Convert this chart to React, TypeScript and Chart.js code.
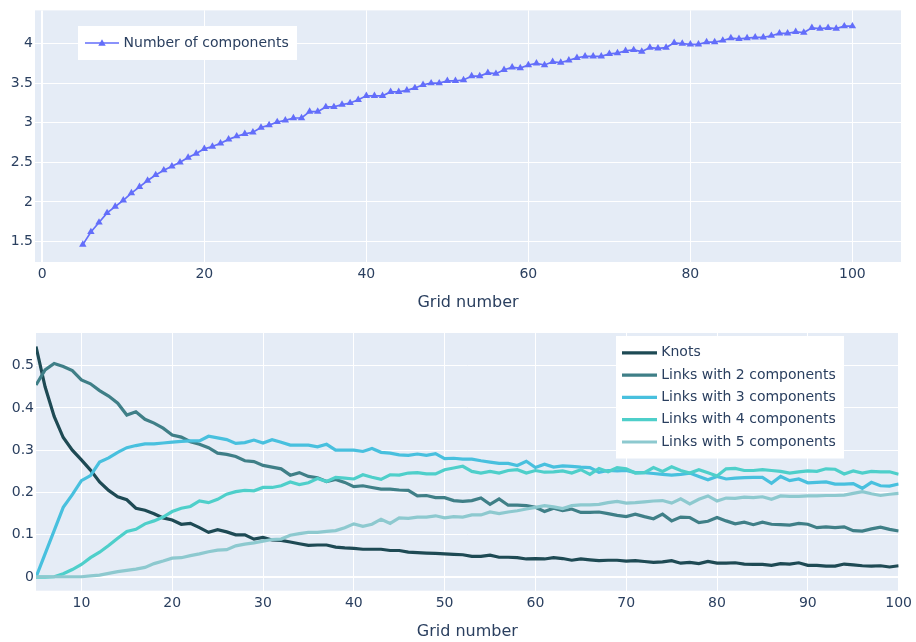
import React, { useEffect, useRef } from 'react';
import { Chart, registerables } from 'chart.js';

Chart.register(...registerables);

const gridNumbers = [
  5, 6, 7, 8, 9, 10, 11, 12, 13, 14, 15, 16, 17, 18, 19, 20, 21, 22, 23, 24,
  25, 26, 27, 28, 29, 30, 31, 32, 33, 34, 35, 36, 37, 38, 39, 40, 41, 42, 43, 44,
  45, 46, 47, 48, 49, 50, 51, 52, 53, 54, 55, 56, 57, 58, 59, 60, 61, 62, 63, 64,
  65, 66, 67, 68, 69, 70, 71, 72, 73, 74, 75, 76, 77, 78, 79, 80, 81, 82, 83, 84,
  85, 86, 87, 88, 89, 90, 91, 92, 93, 94, 95, 96, 97, 98, 99, 100,
];

const numberOfComponents = [
  1.46, 1.62, 1.74, 1.86, 1.94, 2.02, 2.11, 2.19, 2.27, 2.34, 2.40, 2.45, 2.50, 2.56, 2.61, 2.67,
  2.70, 2.74, 2.79, 2.83, 2.86, 2.88, 2.94, 2.97, 3.01, 3.03, 3.06, 3.06, 3.14, 3.14, 3.20, 3.20,
  3.23, 3.25, 3.29, 3.34, 3.34, 3.34, 3.39, 3.39, 3.41, 3.44, 3.48, 3.50, 3.50, 3.53, 3.53, 3.54,
  3.59, 3.59, 3.63, 3.62, 3.67, 3.70, 3.69, 3.73, 3.75, 3.73, 3.77, 3.76, 3.79, 3.82, 3.84, 3.84,
  3.84, 3.87, 3.88, 3.91, 3.92, 3.90, 3.95, 3.94, 3.95, 4.01, 4.00, 3.99, 3.99, 4.02, 4.02, 4.04,
  4.07, 4.06, 4.07, 4.08, 4.08, 4.10, 4.13, 4.13, 4.15, 4.14, 4.20, 4.19, 4.20, 4.19, 4.22, 4.22,
];

const knots = [
  0.545, 0.45, 0.38, 0.33, 0.30, 0.277, 0.253, 0.225, 0.205, 0.19, 0.183, 0.163, 0.158, 0.15, 0.14, 0.135,
  0.125, 0.127, 0.117, 0.106, 0.112, 0.107, 0.10, 0.10, 0.09, 0.094, 0.088, 0.087, 0.083, 0.079, 0.075, 0.076,
  0.076, 0.071, 0.069, 0.068, 0.066, 0.066, 0.066, 0.063, 0.063, 0.059, 0.058, 0.057, 0.056, 0.055, 0.054, 0.053,
  0.049, 0.049, 0.052, 0.047, 0.047, 0.046, 0.043, 0.044, 0.043, 0.046, 0.044, 0.040, 0.043, 0.041, 0.039, 0.040,
  0.040, 0.038, 0.039, 0.037, 0.035, 0.036, 0.039, 0.033, 0.035, 0.032, 0.037, 0.033, 0.033, 0.034, 0.031, 0.030,
  0.030, 0.028, 0.032, 0.031, 0.034, 0.028, 0.028, 0.026, 0.026, 0.031, 0.029, 0.027, 0.026, 0.027, 0.024, 0.027,
];

const links2 = [
  0.454, 0.49, 0.505, 0.498, 0.488, 0.466, 0.457, 0.441, 0.428, 0.411, 0.383, 0.391, 0.373, 0.364, 0.352, 0.336,
  0.331, 0.32, 0.314, 0.306, 0.293, 0.29, 0.285, 0.275, 0.273, 0.264, 0.26, 0.256, 0.241, 0.247, 0.238, 0.235,
  0.226, 0.231, 0.224, 0.214, 0.216, 0.212, 0.208, 0.208, 0.206, 0.205, 0.192, 0.193, 0.188, 0.188, 0.181, 0.179,
  0.181, 0.187, 0.172, 0.185, 0.17, 0.17, 0.169, 0.165, 0.155, 0.163, 0.157, 0.161, 0.153, 0.153, 0.154, 0.15,
  0.146, 0.143, 0.149, 0.143, 0.138, 0.149, 0.133, 0.142, 0.141, 0.129, 0.132, 0.141, 0.133, 0.126, 0.13, 0.124,
  0.13, 0.125, 0.124, 0.123, 0.127, 0.125, 0.117, 0.119, 0.117, 0.119, 0.11, 0.109, 0.114, 0.118, 0.113, 0.109,
];

const links3 = [
  0, 0.055, 0.11, 0.165, 0.195, 0.228, 0.24, 0.272, 0.282, 0.295, 0.306, 0.311, 0.315, 0.315, 0.317, 0.319,
  0.321, 0.322, 0.322, 0.333, 0.329, 0.325, 0.316, 0.318, 0.324, 0.317, 0.325, 0.319, 0.312, 0.312, 0.312, 0.308,
  0.314, 0.30, 0.30, 0.30, 0.297, 0.304, 0.295, 0.293, 0.289, 0.288, 0.291, 0.288, 0.292, 0.28, 0.281, 0.279,
  0.279, 0.275, 0.272, 0.269, 0.269, 0.264, 0.274, 0.259, 0.267, 0.26, 0.263, 0.262, 0.26, 0.259, 0.248, 0.252,
  0.251, 0.252, 0.247, 0.247, 0.245, 0.243, 0.241, 0.243, 0.246, 0.238, 0.23, 0.238, 0.232, 0.234, 0.235, 0.236,
  0.236, 0.222, 0.238, 0.228, 0.232, 0.223, 0.224, 0.225, 0.22, 0.22, 0.221, 0.21, 0.224, 0.216, 0.215, 0.22,
];

const links4 = [
  0, 0, 0.001, 0.008, 0.018, 0.03, 0.046, 0.059, 0.075, 0.092, 0.108, 0.113, 0.126, 0.133, 0.142, 0.155,
  0.163, 0.167, 0.18, 0.176, 0.184, 0.196, 0.202, 0.205, 0.204, 0.212, 0.212, 0.216, 0.225, 0.219, 0.223, 0.233,
  0.226, 0.236, 0.234, 0.232, 0.242, 0.236, 0.231, 0.242, 0.241, 0.246, 0.247, 0.244, 0.244, 0.254, 0.258, 0.262,
  0.25, 0.246, 0.25, 0.246, 0.252, 0.254, 0.246, 0.252, 0.248, 0.249, 0.251, 0.246, 0.254, 0.243, 0.257, 0.249,
  0.259, 0.256, 0.246, 0.247, 0.259, 0.25, 0.261, 0.252, 0.246, 0.254, 0.247, 0.239, 0.256, 0.257, 0.252, 0.252,
  0.254, 0.252, 0.25, 0.246, 0.249, 0.251, 0.25, 0.256, 0.255, 0.244, 0.251, 0.246, 0.25, 0.249, 0.249, 0.243,
];

const links5 = [
  0.001, 0.001, 0.001, 0.001, 0.001, 0.001, 0.003, 0.005, 0.009, 0.013, 0.016, 0.019, 0.023, 0.032, 0.038, 0.045,
  0.046, 0.051, 0.055, 0.06, 0.064, 0.065, 0.074, 0.078, 0.081, 0.085, 0.089, 0.09, 0.099, 0.103, 0.106, 0.106,
  0.108, 0.11, 0.117, 0.126, 0.12, 0.125, 0.137, 0.127, 0.14, 0.139, 0.142, 0.142, 0.145, 0.14, 0.143, 0.142,
  0.147, 0.147, 0.154, 0.15, 0.154, 0.157, 0.161, 0.165, 0.169, 0.166, 0.162, 0.169, 0.171, 0.171, 0.172, 0.176,
  0.179, 0.175, 0.176, 0.178, 0.18, 0.181, 0.175, 0.185, 0.173, 0.184, 0.192, 0.18, 0.187, 0.186, 0.189, 0.188,
  0.19, 0.184, 0.192, 0.191, 0.191, 0.192, 0.192, 0.193, 0.193, 0.194, 0.198, 0.202, 0.197, 0.193, 0.196, 0.198,
];

const topXTicks = [0, 20, 40, 60, 80, 100];
const topYTicks = [1.5, 2, 2.5, 3, 3.5, 4];
const bottomXTicks = [10, 20, 30, 40, 50, 60, 70, 80, 90, 100];
const bottomYTicks = [0, 0.1, 0.2, 0.3, 0.4, 0.5];

const xTitle = 'Grid number';
const topSeriesName = 'Number of components';
const bottomSeriesNames = [
  'Knots',
  'Links with 2 components',
  'Links with 3 components',
  'Links with 4 components',
  'Links with 5 components',
];
const bottomColors = ['#1e4a54', '#3f7f87', '#48c0de', '#4ecfca', '#8dc9cf'];
const topColor = '#636efa';

const FONT = '"DejaVu Sans", Verdana, sans-serif';
const TEXT = '#2a3f5f';
const PLOT_BG = '#E5ECF6';

const plotBg = {
  id: 'plotBg',
  beforeDraw(chart: any) {
    const { ctx, chartArea: a } = chart;
    ctx.save();
    ctx.fillStyle = PLOT_BG;
    ctx.fillRect(a.left, a.top, a.right - a.left, a.bottom - a.top);
    ctx.restore();
  },
};

function drawTriangle(ctx: CanvasRenderingContext2D, x: number, y: number, r: number) {
  const t = (2 * Math.PI) / 3;
  ctx.beginPath();
  ctx.moveTo(x, y - r);
  ctx.lineTo(x + Math.sin(t) * r, y - Math.cos(t) * r);
  ctx.lineTo(x + Math.sin(2 * t) * r, y - Math.cos(2 * t) * r);
  ctx.closePath();
  ctx.fill();
}

const topLegend = {
  id: 'topLegend',
  afterDraw(chart: any) {
    const ctx: CanvasRenderingContext2D = chart.ctx;
    ctx.save();
    ctx.fillStyle = '#ffffff';
    ctx.fillRect(78, 26, 219, 34);
    ctx.strokeStyle = topColor;
    ctx.lineWidth = 1.7;
    ctx.beginPath();
    ctx.moveTo(85, 43);
    ctx.lineTo(119, 43);
    ctx.stroke();
    ctx.fillStyle = topColor;
    drawTriangle(ctx, 102, 43.5, 4.3);
    ctx.fillStyle = TEXT;
    ctx.font = `14px ${FONT}`;
    ctx.textBaseline = 'middle';
    ctx.textAlign = 'left';
    ctx.fillText(topSeriesName, 123.6, 43);
    ctx.restore();
  },
};

const bottomLegend = {
  id: 'bottomLegend',
  afterDraw(chart: any) {
    const ctx: CanvasRenderingContext2D = chart.ctx;
    ctx.save();
    ctx.fillStyle = '#ffffff';
    ctx.fillRect(616, 16, 228, 122.5);
    ctx.font = `14px ${FONT}`;
    ctx.textBaseline = 'middle';
    ctx.textAlign = 'left';
    bottomSeriesNames.forEach((name, i) => {
      const y = 32.8 + i * 22.3;
      ctx.strokeStyle = bottomColors[i];
      ctx.lineWidth = 3.2;
      ctx.beginPath();
      ctx.moveTo(622, y);
      ctx.lineTo(657, y);
      ctx.stroke();
      ctx.fillStyle = TEXT;
      ctx.fillText(name, 661.3, y);
    });
    ctx.restore();
  },
};

function makeAxis(
  min: number,
  max: number,
  ticks: number[],
  horizontal: boolean,
  size: number,
  pad: number,
  titleBottom?: number
) {
  const axis: any = {
    type: 'linear',
    min,
    max,
    afterBuildTicks: (scale: any) => {
      scale.ticks = ticks.map((v) => ({ value: v }));
    },
    afterFit: (scale: any) => {
      if (horizontal) scale.height = size;
      else scale.width = size;
    },
    grid: {
      color: '#ffffff',
      lineWidth: (c: any) => (c.tick && c.tick.value === 0 ? 2 : 1),
      drawTicks: false,
    },
    border: { display: false },
    ticks: {
      color: TEXT,
      font: { family: FONT, size: 14 },
      padding: pad,
      autoSkip: false,
      maxRotation: 0,
      minRotation: 0,
      callback: (v: any) => String(v),
    },
  };
  if (titleBottom !== undefined) {
    axis.title = {
      display: true,
      text: xTitle,
      color: TEXT,
      font: { family: FONT, size: 16 },
      padding: { top: 0, bottom: titleBottom },
    };
  }
  return axis;
}

export default function App() {
  const topRef = useRef<HTMLCanvasElement>(null);
  const bottomRef = useRef<HTMLCanvasElement>(null);

  useEffect(() => {
    const top = new Chart(topRef.current as HTMLCanvasElement, {
      type: 'line',
      data: {
        datasets: [
          {
            label: topSeriesName,
            data: gridNumbers.map((x, i) => ({ x, y: numberOfComponents[i] })),
            borderColor: topColor,
            backgroundColor: topColor,
            borderWidth: 1.7,
            pointStyle: 'triangle',
            pointRadius: 4.3,
            pointBorderWidth: 0,
            pointBackgroundColor: topColor,
            tension: 0,
          },
        ],
      },
      options: {
        animation: false,
        responsive: false,
        events: [],
        layout: { padding: { left: 0, top: 5, right: 15, bottom: 0 } },
        scales: {
          x: makeAxis(-0.9, 106, topXTicks, true, 58, 4, 8),
          y: makeAxis(1.24, 4.42, topYTicks, false, 35, 2),
        },
        plugins: { legend: { display: false }, tooltip: { enabled: false } },
      } as any,
      plugins: [plotBg, topLegend],
    });

    const seriesList = [knots, links2, links3, links4, links5];
    const bottom = new Chart(bottomRef.current as HTMLCanvasElement, {
      type: 'line',
      data: {
        datasets: seriesList.map((s, i) => ({
          label: bottomSeriesNames[i],
          data: gridNumbers.map((x, j) => ({ x, y: s[j] })),
          borderColor: bottomColors[i],
          backgroundColor: bottomColors[i],
          borderWidth: 3.2,
          pointRadius: 0,
          tension: 0,
          order: 4 - i,
        })),
      },
      options: {
        animation: false,
        responsive: false,
        events: [],
        layout: { padding: { left: 0, top: 13, right: 14.3, bottom: 0 } },
        scales: {
          x: makeAxis(5, 100, bottomXTicks, true, 51.3, 4, 1),
          y: makeAxis(-0.032, 0.577, bottomYTicks, false, 36, 2),
        },
        plugins: { legend: { display: false }, tooltip: { enabled: false } },
      } as any,
      plugins: [plotBg, bottomLegend],
    });

    return () => {
      top.destroy();
      bottom.destroy();
    };
  }, []);

  return (
    <div style={{ position: 'absolute', left: 0, top: 0, width: 916, height: 642, background: '#ffffff' }}>
      <canvas
        ref={topRef}
        width={916}
        height={320}
        style={{ position: 'absolute', left: 0, top: 0, width: 916, height: 320 }}
      />
      <canvas
        ref={bottomRef}
        width={916}
        height={322}
        style={{ position: 'absolute', left: 0, top: 320, width: 916, height: 322 }}
      />
    </div>
  );
}
